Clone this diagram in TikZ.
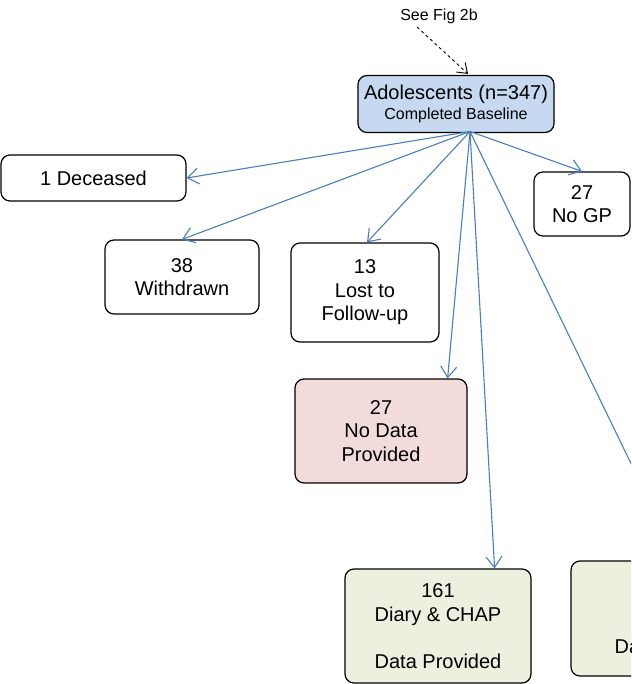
\documentclass[tikz,border=0pt]{standalone}
\usepackage{fontspec}
\setmainfont{Liberation Sans}
\usepackage{tikz}
\usetikzlibrary{arrows.meta, positioning}

\definecolor{boxblue}{HTML}{C6D9F1}
\definecolor{boxpink}{HTML}{F2DCDB}
\definecolor{boxgreen}{HTML}{EBF1DE}
\definecolor{flowblue}{HTML}{4A7EBB}

\begin{document}
\begin{tikzpicture}[x=1pt, y=-1pt,
    box/.style={draw=black, line width=1.2pt, rounded corners=9pt, align=center,
      fill=white, inner sep=0pt, font=\fontsize{20}{23.5}\selectfont},
    flow/.style={draw=flowblue, line width=1.1pt,
      -{Straight Barb[length=11pt, width=16pt, line width=1.1pt]}},
    ref/.style={draw=black, line width=0.9pt, dashed,
      -{Straight Barb[length=9pt, width=13pt, line width=0.9pt]}}]
    \useasboundingbox (0,0) rectangle (631,684);
    \clip (0,0) rectangle (631,684);

    % Pointer from the other figure
    \node[font=\fontsize{16}{19}\selectfont] (seefig) at (439,16) {See Fig 2b};

    % Baseline cohort
    \node[box, fill=boxblue, minimum width=196pt, minimum height=57pt] (base) at (456,104)
      {Adolescents (n=347)\\[-3pt]{\fontsize{16}{19}\selectfont Completed Baseline\hspace{10pt}}};
    \coordinate (fan) at (470,131.5);

    % Exclusions
    \node[box, minimum width=185pt, minimum height=46pt] (deceased) at (93.5,178) {1 Deceased};
    \node[box, minimum width=154pt, minimum height=74pt] (withdrawn) at (182,277) {38\\Withdrawn};
    \node[box, minimum width=148pt, minimum height=99pt] (lost) at (365,292.5) {13\\Lost to\\Follow-up};
    \node[box, minimum width=96pt, minimum height=64pt] (nogp) at (582,204) {27\\No GP};

    % Outcome groups
    \node[box, fill=boxpink, minimum width=172pt, minimum height=104pt] (nodata) at (381,431)
      {27\\No Data\\Provided};
    \node[box, fill=boxgreen, minimum width=186pt, minimum height=114pt] (diary) at (438,626)
      {161\\Diary \& CHAP\\[23.5pt]Data Provided};
    \node[box, fill=boxgreen, minimum width=214pt, minimum height=115pt] (other) at (678,618.5)
      {\mbox{}\\\mbox{}\\\mbox{}\\Data Provided};

    % Connectors
    \draw[ref] ([xshift=-22pt]seefig.south) -- ([xshift=12pt, yshift=1pt]base.north);
    \draw[flow] (fan) -- (deceased.east);
    \draw[flow] (fan) -- (withdrawn.north);
    \draw[flow] (fan) -- ([xshift=2pt]lost.north);
    \draw[flow] (fan) -- (nogp.north);
    \draw[flow] (fan) -- ([xshift=-20pt]nodata.north east);
    \draw[flow] (fan) -- ([xshift=-37pt]diary.north east);
    \draw[flow] (fan) -- (other.north);
\end{tikzpicture}
\end{document}
